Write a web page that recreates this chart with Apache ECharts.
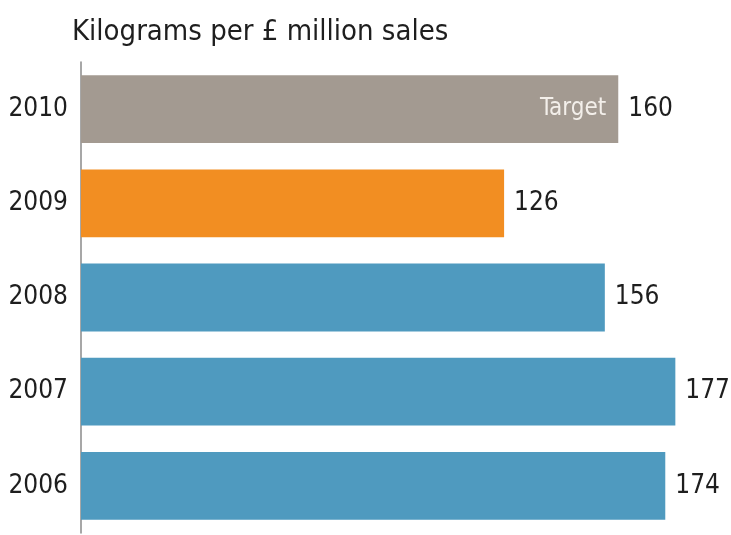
<!DOCTYPE html>
<html>
<head>
<meta charset="utf-8">
<script src="https://cdn.jsdelivr.net/npm/echarts@6/dist/echarts.min.js"></script>
<style>
  html, body { margin: 0; padding: 0; background: #fff; }
  #chart { width: 731px; height: 535px; }
</style>
</head>
<body>
<div id="chart"></div>
<script>
// Waste intensity by year (bottom to top on the axis)
const years = ['2006', '2007', '2008', '2009', '2010'];
const values = [174, 177, 156, 126, 160];
const barColors = ['#4f9abf', '#4f9abf', '#4f9abf', '#f28e22', '#a39a91'];
const targetYear = '2010';
const targetText = 'Target';
const titleText = 'Kilograms per £ million sales';

const FONT = '"Liberation Sans Narrow", "DejaVu Sans Condensed", "Roboto Condensed", "Open Sans", sans-serif';

const chart = echarts.init(document.getElementById('chart'), null, { renderer: 'canvas' });

const mainData = values.map((v, i) => ({ value: v, itemStyle: { color: barColors[i] } }));
const targetData = values.map((v, i) => (years[i] === targetYear ? v : null));

chart.setOption({
  animation: false,
  backgroundColor: '#ffffff',
  title: {
    text: titleText,
    left: 67,
    top: 13,
    textStyle: { fontFamily: FONT, fontSize: 29, fontWeight: 'normal', color: '#1e1e1e' }
  },
  grid: { left: 81, right: 12, top: 62, bottom: 2, containLabel: false },
  xAxis: {
    type: 'value',
    min: 0,
    max: 190,
    show: false
  },
  yAxis: {
    type: 'category',
    data: years,
    axisLine: { show: true, lineStyle: { color: '#8a8a8a', width: 1.5 } },
    axisTick: { show: false },
    axisLabel: { fontFamily: FONT, fontSize: 26, color: '#1e1e1e', margin: 13 }
  },
  series: [
    {
      type: 'bar',
      data: mainData,
      barCategoryGap: '28%',
      label: {
        show: true,
        position: 'right',
        distance: 10,
        fontFamily: FONT,
        fontSize: 26,
        color: '#1e1e1e'
      }
    },
    {
      type: 'bar',
      data: targetData,
      barGap: '-100%',
      barCategoryGap: '28%',
      itemStyle: { color: 'rgba(0,0,0,0)' },
      silent: true,
      label: {
        show: true,
        position: 'insideRight',
        distance: 12,
        formatter: targetText,
        fontFamily: FONT,
        fontSize: 24,
        color: '#f3efea'
      }
    }
  ]
});
</script>
</body>
</html>
